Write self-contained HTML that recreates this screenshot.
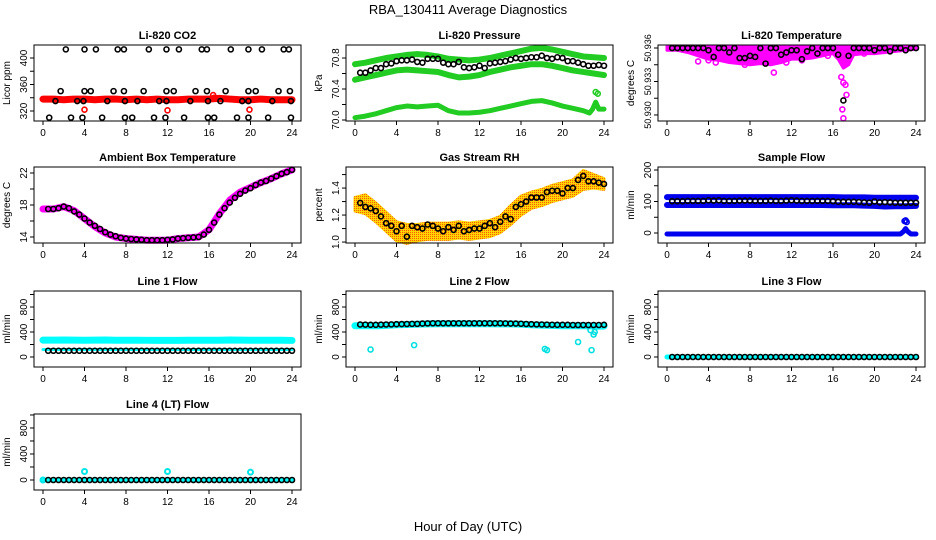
<!DOCTYPE html>
<html><head><meta charset="utf-8"><style>
html,body{margin:0;padding:0;background:#fff;}
svg{display:block;font-family:"Liberation Sans",sans-serif;}
</style></head><body>
<svg id="chart" width="936" height="540" viewBox="0 0 936 540" xmlns="http://www.w3.org/2000/svg">
<defs>
<pattern id="rhpat" width="2" height="2" patternUnits="userSpaceOnUse">
<rect width="2" height="2" fill="#ffd400"/><rect width="1" height="1" fill="#ff5a00"/>
</pattern>
</defs>
<text x="468" y="14" font-size="13" text-anchor="middle">RBA_130411  Average Diagnostics</text>
<text x="468" y="531" font-size="13" text-anchor="middle">Hour of Day (UTC)</text>
</svg>
<script>
// ---- data ----
const halfHours=[0.5,1,1.5,2,2.5,3,3.5,4,4.5,5,5.5,6,6.5,7,7.5,8,8.5,9,9.5,10,10.5,11,11.5,12,12.5,13,13.5,14,14.5,15,15.5,16,16.5,17,17.5,18,18.5,19,19.5,20,20.5,21,21.5,22,22.5,23,23.5,24];
const hours=[0,1,2,3,4,5,6,7,8,9,10,11,12,13,14,15,16,17,18,19,20,21,22,23,24];
// CO2
const co2Band=[338,338,337,338,338,337,338,338,337,338,337,338,337,337,338,338,338,339,338,337,337,338,337,337,337];
const co2BlackH=[2.2,4.0,5.1,7.2,7.8,10.2,11.9,13.1,15.3,15.8,18.1,19.8,21.1,23.2,23.7, 1.7,4.0,4.6,6.8,7.8,9.7,11.9,12.6,14.7,15.8,17.6,19.8,20.5,22.7,23.8, 1.2,3.3,3.9,6.2,7.9,9.1,11.2,11.9,14.2,15.9,17.1,19.2,19.8,22.1,23.9, 0.6,2.7,3.8,5.7,7.9,8.6,10.7,11.8,13.6,15.9,16.5,18.7,19.8,21.7,23.9];
const co2BlackV=[413,413,413,413,413,413,413,413,413,413,413,413,413,413,413, 350,350,350,350,350,350,350,350,350,350,350,350,350,350,350, 335,335,335,335,335,335,335,335,335,335,335,335,335,335,335, 310,310,310,310,310,310,310,310,310,310,310,310,310,310,310];
const co2RedH=[4.0,12.0,19.9,16.4,16.5];
const co2RedV=[322,321,322,344,340];
// Pressure
const presUpper=[70.72,70.74,70.77,70.80,70.82,70.84,70.85,70.84,70.82,70.79,70.78,70.77,70.78,70.80,70.83,70.86,70.89,70.92,70.93,70.91,70.88,70.85,70.82,70.81,70.80];
const presMid=[70.52,70.55,70.58,70.61,70.64,70.65,70.64,70.63,70.62,70.58,70.55,70.56,70.58,70.62,70.65,70.68,70.70,70.72,70.72,70.70,70.67,70.64,70.62,70.60,70.58];
const presLowH=[0,1,2,3,4,5,6,7,8,9,10,11,12,13,14,15,16,17,18,19,20,21,22,22.6,22.9,23.2,23.5,24];
const presLowV=[70.03,70.05,70.08,70.12,70.16,70.18,70.17,70.18,70.19,70.12,70.09,70.09,70.10,70.12,70.15,70.18,70.21,70.24,70.25,70.22,70.18,70.15,70.12,70.09,70.14,70.23,70.14,70.14];
const presBlack=[70.61,70.61,70.64,70.67,70.67,70.72,70.73,70.76,70.77,70.77,70.78,70.75,70.74,70.79,70.79,70.79,70.74,70.72,70.72,70.75,70.68,70.67,70.68,70.70,70.67,70.73,70.74,70.75,70.76,70.78,70.80,70.79,70.80,70.81,70.81,70.83,70.80,70.79,70.81,70.80,70.76,70.76,70.74,70.72,70.70,70.70,70.71,70.70];
const presGreenH=[23.2,23.4];
const presGreenV=[70.36,70.34];
// Li-820 temperature
const tempEnvH=[0,1,2,3,4,5,6,7,8,9,10,11,12,13,14,15,16,16.5,17,17.5,18,19,20,21,22,23,24];
const tempEnvV=[50.9358,50.9358,50.9356,50.9353,50.9350,50.9349,50.9347,50.9346,50.9345,50.9346,50.9345,50.9347,50.9350,50.9350,50.9351,50.9353,50.9355,50.9350,50.9342,50.9345,50.9354,50.9355,50.9355,50.9356,50.9357,50.9358,50.9359];
const tempBlack=[50.9360,50.9360,50.9360,50.9360,50.9360,50.9360,50.9360,50.9358,50.9352,50.9360,50.9360,50.9356,50.9360,50.9351,50.9351,50.9353,50.9352,50.9360,50.9346,50.9360,50.9360,50.9354,50.9356,50.9358,50.9358,50.9350,50.9357,50.9360,50.9355,50.9360,50.9360,50.9360,50.9354,50.9313,50.9353,50.9360,50.9360,50.9360,50.9360,50.9358,50.9360,50.9360,50.9357,50.9360,50.9360,50.9358,50.9360,50.9360];
const tempMagH=[3.0,4.0,4.7,7.5,10.3,11.5,16.8,17.0,17.2,16.9,17.0,17.3,19.0,15.5,6.0,13.0];
const tempMagV=[50.9348,50.9349,50.9347,50.9345,50.9338,50.9347,50.9334,50.9329,50.9327,50.9305,50.9297,50.9318,50.9355,50.9353,50.9350,50.9349];
// Ambient
const ambBand=[17.5,17.5,17.8,17.3,16.3,15.3,14.5,14.0,13.8,13.7,13.6,13.6,13.6,13.8,13.9,14.0,14.9,16.9,18.6,19.6,20.2,20.8,21.3,21.9,22.4];
const ambBlack=[17.5,17.5,17.6,17.8,17.6,17.2,16.8,16.3,15.8,15.4,15.0,14.6,14.3,14.1,13.9,13.8,13.75,13.7,13.65,13.6,13.6,13.6,13.6,13.65,13.7,13.8,13.85,13.9,13.95,14.0,14.3,14.9,15.8,16.8,17.6,18.3,18.9,19.4,19.8,20.1,20.5,20.8,21.0,21.3,21.6,21.9,22.1,22.4];
// RH
const rhCenter=[1.28,1.28,1.22,1.15,1.08,1.06,1.07,1.08,1.08,1.08,1.09,1.08,1.09,1.10,1.13,1.20,1.27,1.31,1.33,1.36,1.38,1.40,1.46,1.45,1.43];
const rhHalfWidth=[0.05,0.07,0.07,0.07,0.07,0.07,0.06,0.06,0.06,0.06,0.06,0.06,0.06,0.06,0.06,0.07,0.07,0.06,0.06,0.06,0.06,0.06,0.07,0.05,0.04];
const rhBlack=[1.29,1.26,1.25,1.23,1.19,1.14,1.12,1.08,1.12,1.04,1.12,1.11,1.10,1.13,1.12,1.10,1.08,1.11,1.09,1.12,1.08,1.09,1.10,1.10,1.12,1.14,1.11,1.15,1.19,1.17,1.26,1.28,1.30,1.33,1.33,1.33,1.37,1.38,1.38,1.36,1.40,1.40,1.46,1.49,1.45,1.45,1.44,1.43];
// Sample flow
const sampUpper=[114,114,114,114,114,114,114,114,114,114,114,114,114,114,114,114,114,113,113,113,112,112,112,112,112];
const sampLower=[89,89,89,89,89,89,89,89,89,89,89,89,89,89,89,89,88,88,88,87,86,84,85,85,86];
const sampBaseH=[0,4,8,12,16,20,22.5,22.8,23.0,23.2,23.5,24];
const sampBaseV=[-3,-3,-3,-3,-3,-3,-3,5,14,5,-3,-3];
const sampBlack=[101,101,101,102,102,102,102,104,103,104,102,102,102,103,103,103,102,102,102,103,102,102,103,104,103,102,102,102,102,102,102,101,99,99,99,99,98,97,96,100,97,98,97,96,96,96,96,96];
const sampBlueH=[22.9,23.0,23.1];
const sampBlueV=[38,40,35];
// Line flows
const l1Band=[270,270,272,270,268,270,272,268,268,268,267,267,267,267,268,268,268,268,272,270,268,268,268,268,265];
const l1Lower=[120,120,120,120,120,120,120,120,120,120,120,120,120,120,120,120,120,120,120,120,120,120,120,120,120];
const l1Black=[100,100,100,100,100,100,100,100,100,100,100,100,100,100,100,100,100,100,100,100,100,100,100,100,100,100,100,100,100,100,100,100,100,100,100,100,100,100,100,100,100,100,100,100,100,100,100,100];
const l2Band=[500,500,500,505,515,520,525,530,532,532,532,532,532,532,530,530,525,515,510,505,500,500,500,495,495];
const l2Black=[520,518,515,515,518,520,522,525,527,528,530,530,535,538,540,540,540,540,540,540,540,540,540,540,540,540,540,540,538,535,535,532,528,525,522,520,518,516,515,515,515,512,512,512,512,512,512,515];
const l2CyanH=[1.5,5.7,18.3,18.5,21.5,22.8,23.0,23.1,22.7];
const l2CyanV=[120,190,130,110,240,110,360,400,430];
const l3Black=[0,0,0,0,0,0,0,0,0,0,0,0,0,0,0,0,0,0,0,0,0,0,0,0,0,0,0,0,0,0,0,0,0,0,0,0,0,0,0,0,0,0,0,0,0,0,0,0];
const l3Band=[0,0,0,0,0,0,0,0,0,0,0,0,0,0,0,0,0,0,0,0,0,0,0,0,0];
const l4Black=[0,0,0,0,0,0,0,0,0,0,0,0,0,0,0,0,0,0,0,0,0,0,0,0,0,0,0,0,0,0,0,0,0,0,0,0,0,0,0,0,0,0,0,0,0,0,0,0];
const l4CyanH=[4,12,20,0];
const l4CyanV=[130,130,120,0];

// ---- drawing ----
const NS="http://www.w3.org/2000/svg";
const svg=document.getElementById('chart');
function mk(tag,attrs,parent){const e=document.createElementNS(NS,tag);for(const k in attrs)e.setAttribute(k,attrs[k]);(parent||svg).appendChild(e);return e;}
const colL=[34,346,658], rowT=[45,167,291,414], PW=267, PH=76;
const xTicks=[0,4,8,12,16,20,24];
function panel(c,r,title,ylab,dom,ticks,labels,slug,yfs){
  const L=colL[c],T=rowT[r];
  const g=mk('g',{});
  
  
  const x=h=>L+9+h*(PW-18)/24;
  const y=v=>T+PH-(v-dom[0])/(dom[1]-dom[0])*PH;
  const t=mk('text',{x:L+PW/2,y:T-6,'font-size':11,'font-weight':'bold','text-anchor':'middle'},g);
  t.textContent=title;
  
  
  const yl=mk('text',{transform:`translate(${L-24},${T+PH/2}) rotate(-90)`,'font-size':10,'text-anchor':'middle'},g);
  yl.textContent=ylab;
  
  
  xTicks.forEach(h=>{
    mk('line',{x1:x(h),x2:x(h),y1:T+PH,y2:T+PH+4,stroke:'#000'},g);
    const tl=mk('text',{x:x(h),y:T+PH+15,'font-size':10,'text-anchor':'middle'},g);
    tl.textContent=h;
    
    
  });
  ticks.forEach(v=>{mk('line',{x1:L-4,x2:L,y1:y(v),y2:y(v),stroke:'#000'},g);});
  labels.forEach(lb=>{
    const v=Array.isArray(lb)?lb[0]:lb, txt=Array.isArray(lb)?lb[1]:String(lb);
    const tl=mk('text',{transform:`translate(${L-7},${y(v)}) rotate(-90)`,'font-size':yfs||10,'text-anchor':'middle'},g);
    tl.textContent=txt;
    
    
  });
  const data=mk('g',{},g);
  
  
  const box=mk('rect',{x:L,y:T,width:PW,height:PH,fill:'none',stroke:'#000','stroke-width':1},g);
  
  
  return {x,y,g:data,L,T};
}
function band(p,hs,vs,color,w,name){
  const pts=hs.map((h,i)=>p.x(h)+','+p.y(vs[i])).join(' ');
  const e=mk('polyline',{points:pts,fill:'none',stroke:color,'stroke-width':w,'stroke-linejoin':'round','stroke-linecap':'round'},p.g);
  
  
}
function circles(p,hs,vs,color,name,sw){
  hs.forEach((h,i)=>{
    const e=mk('circle',{cx:p.x(h),cy:p.y(vs[i]),r:2.5,fill:'none',stroke:color,'stroke-width':sw||1.6},p.g);
    
    
  });
}
function area(p,hs,up,lo,fill,name){
  const a=hs.map((h,i)=>p.x(h)+','+p.y(up[i]));
  const b=hs.map((h,i)=>p.x(h)+','+p.y(lo[i])).reverse();
  const e=mk('polygon',{points:a.concat(b).join(' '),fill:fill,stroke:fill,'stroke-width':3,'stroke-linejoin':'round'},p.g);
  
  
}

// CO2
let p=panel(0,0,'Li-820 CO2','Licor ppm',[304.9,419.6],[320,340,360,380,400],[320,360,400],'co2');
band(p,hours,co2Band,'#ff0000',7,'co2-red-band');
circles(p,co2RedH,co2RedV,'#ff0000','co2-red-point');
circles(p,co2BlackH,co2BlackV,'#000','co2-black-point');
// Pressure
p=panel(1,0,'Li-820 Pressure','kPa',[69.987,70.968],[70.0,70.2,70.4,70.6,70.8],['70.0','70.4','70.8'],'pressure');
band(p,hours,presUpper,'#22cc22',6,'pressure-upper-band');
band(p,hours,presMid,'#22cc22',6,'pressure-mid-band');
band(p,presLowH,presLowV,'#22cc22',5,'pressure-lower-band');
circles(p,presGreenH,presGreenV,'#22cc22','pressure-green-point');
circles(p,halfHours,presBlack,'#000','pressure-black-point');
// Temperature
p=panel(2,0,'Li-820 Temperature','degrees C',[50.92946,50.93627],[50.930,50.9315,50.933,50.9345,50.936],[[50.930,'50.930'],[50.933,'50.933'],[50.936,'50.936']],'li820-temp',9);
area(p,tempEnvH,tempEnvH.map(()=>50.93612),tempEnvV,'#ff00ff','li820-temp-magenta-band');
circles(p,tempMagH,tempMagV,'#ff00ff','li820-temp-magenta-point');
circles(p,halfHours,tempBlack,'#000','li820-temp-black-point');
// Ambient
p=panel(0,1,'Ambient Box Temperature','degrees C',[13.25,22.75],[14,16,18,20,22],[14,18,22],'ambient');
band(p,hours,ambBand,'#ff00ff',7,'ambient-magenta-band');
circles(p,halfHours,ambBlack,'#000','ambient-black-point');
// RH
p=panel(1,1,'Gas Stream RH','percent',[0.993,1.556],[1.0,1.1,1.2,1.3,1.4,1.5],[[1.0,'1.0'],[1.2,'1.2'],[1.4,'1.4']],'rh');
area(p,hours,rhCenter.map((v,i)=>v+rhHalfWidth[i]),rhCenter.map((v,i)=>v-rhHalfWidth[i]),'url(#rhpat)','rh-band');
circles(p,halfHours,rhBlack,'#000','rh-black-point');
// Sample flow
p=panel(2,1,'Sample Flow','ml/min',[-31.7,209.5],[0,50,100,150,200],[0,100,200],'sample-flow');
band(p,hours,sampUpper,'#0000ee',6,'sample-flow-upper-band');
band(p,hours,sampLower,'#0000ee',6,'sample-flow-lower-band');
band(p,sampBaseH,sampBaseV,'#0000ee',5,'sample-flow-base-band');
circles(p,sampBlueH,sampBlueV,'#0000ee','sample-flow-blue-point');
circles(p,halfHours,sampBlack,'#000','sample-flow-black-point');
// Line 1
p=panel(0,2,'Line 1 Flow','ml/min',[-160,1056],[0,200,400,600,800,1000],[0,400,800],'line1');
band(p,hours,l1Band,'#00ffff',7,'line1-cyan-band');
band(p,hours,l1Lower,'#00ffff',3,'line1-cyan-lower');
circles(p,halfHours,l1Black,'#000','line1-black-point');
// Line 2
p=panel(1,2,'Line 2 Flow','ml/min',[-160,1056],[0,200,400,600,800,1000],[0,400,800],'line2');
band(p,hours,l2Band,'#00ffff',7,'line2-cyan-band');
circles(p,l2CyanH,l2CyanV,'#00e0e0','line2-cyan-point');
circles(p,halfHours,l2Black,'#000','line2-black-point');
// Line 3
p=panel(2,2,'Line 3 Flow','ml/min',[-160,1056],[0,200,400,600,800,1000],[0,400,800],'line3');
band(p,hours,l3Band,'#00ffff',5,'line3-cyan-band');
circles(p,halfHours,l3Black,'#000','line3-black-point');
// Line 4
p=panel(0,3,'Line 4 (LT) Flow','ml/min',[-154,1015],[0,200,400,600,800,1000],[0,400,800],'line4');
band(p,hours,l3Band,'#00ffff',4,'line4-cyan-band');
circles(p,l4CyanH,l4CyanV,'#00e6e6','line4-cyan-point',2);
circles(p,halfHours,l4Black,'#000','line4-black-point');
</script>
</body></html>
